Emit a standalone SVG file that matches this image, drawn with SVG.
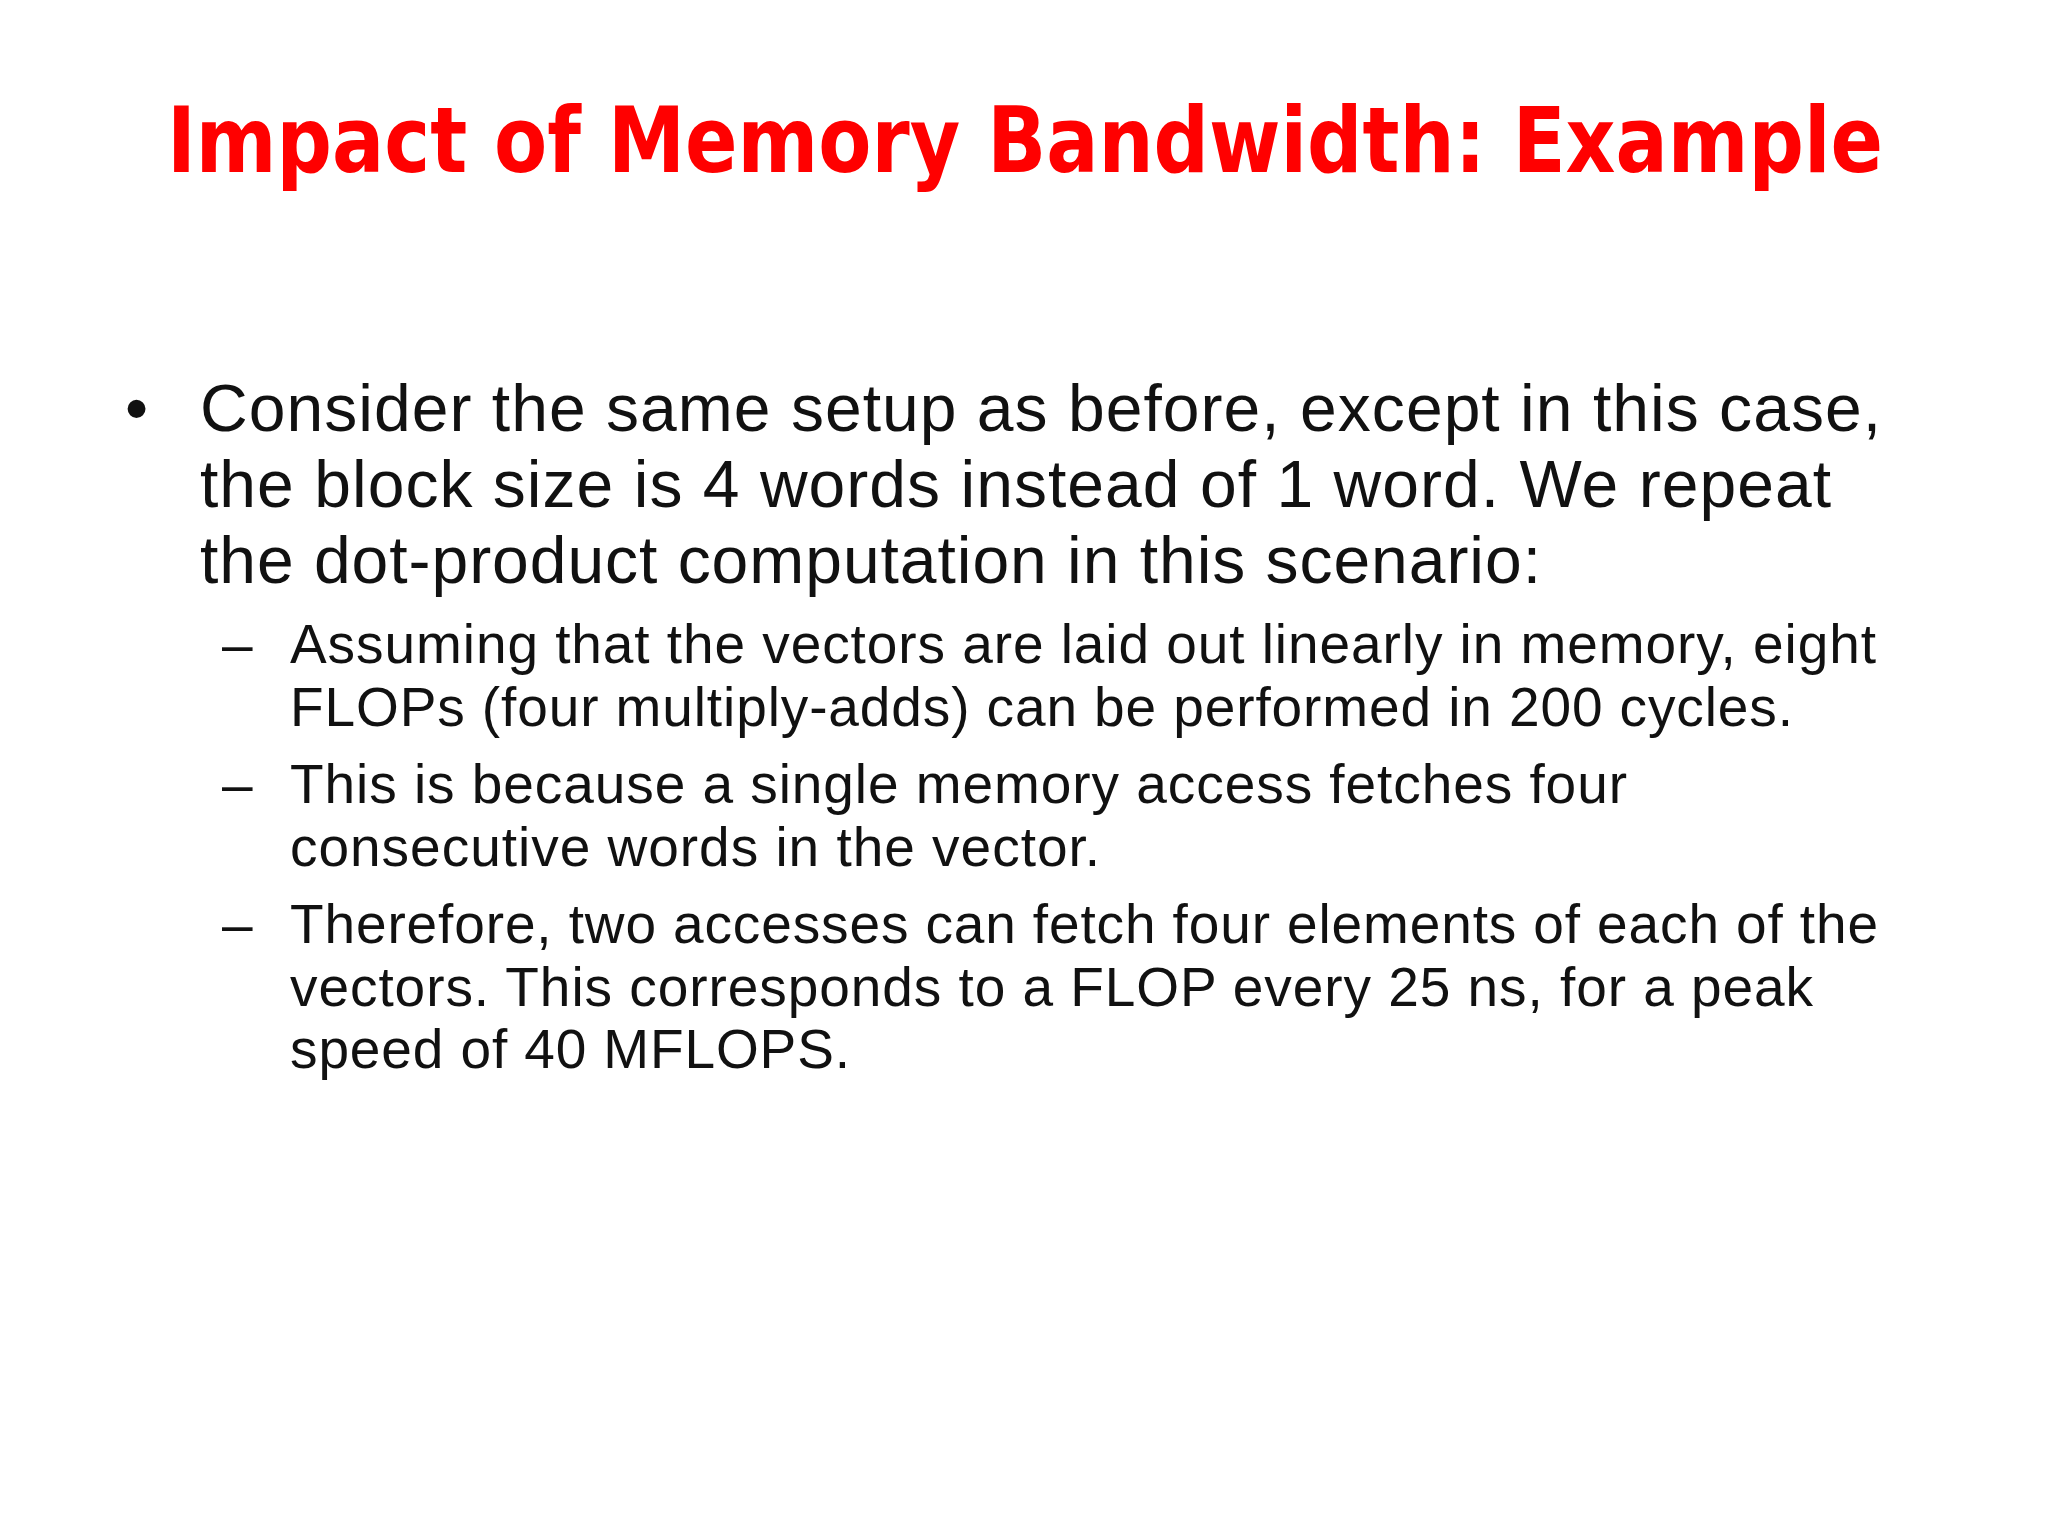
<svg xmlns="http://www.w3.org/2000/svg" width="2048" height="1536" viewBox="0 0 2048 1536">
<style>
.t{font-family:"DejaVu Sans","Liberation Sans",sans-serif;font-weight:bold;fill:#ff0000;font-size:90px}
.b{font-family:"Liberation Sans",Arial,sans-serif;fill:#111;font-size:66px}
.s{font-family:"Liberation Sans",Arial,sans-serif;fill:#111;font-size:55px}
</style>
<rect width="2048" height="1536" fill="#ffffff"/>
<g id="title"><text class="t" x="167" y="172" textLength="1716" lengthAdjust="spacingAndGlyphs">Impact of Memory Bandwidth: Example</text></g>
<g id="bullet1">
<text class="b" x="125" y="431">•</text>
<text class="b" x="200" y="431" textLength="1681">Consider the same setup as before, except in this case,</text>
<text class="b" x="200" y="507" textLength="1631">the block size is 4 words instead of 1 word. We repeat</text>
<text class="b" x="200" y="583" textLength="1341">the dot-product computation in this scenario:</text>
</g>
<g id="sub1">
<text class="s" x="222" y="663">–</text>
<text class="s" x="290" y="663" textLength="1586">Assuming that the vectors are laid out linearly in memory, eight</text>
<text class="s" x="290" y="726" textLength="1503">FLOPs (four multiply-adds) can be performed in 200 cycles.</text>
</g>
<g id="sub2">
<text class="s" x="222" y="803">–</text>
<text class="s" x="290" y="803" textLength="1337">This is because a single memory access fetches four</text>
<text class="s" x="290" y="866" textLength="810">consecutive words in the vector.</text>
</g>
<g id="sub3">
<text class="s" x="222" y="943">–</text>
<text class="s" x="290" y="943" textLength="1588">Therefore, two accesses can fetch four elements of each of the</text>
<text class="s" x="290" y="1006" textLength="1523">vectors. This corresponds to a FLOP every 25 ns, for a peak</text>
<text class="s" x="290" y="1068" textLength="560">speed of 40 MFLOPS.</text>
</g>
</svg>
